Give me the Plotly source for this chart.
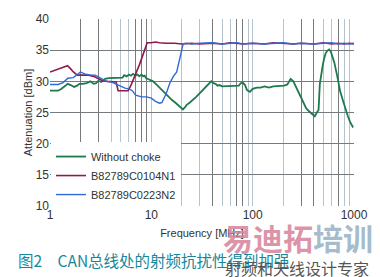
import plotly.graph_objects as go

# ---------------- data ----------------
freq_green = [1, 1.1, 1.2, 1.3, 1.4, 1.5, 1.6, 1.73, 1.85, 1.95, 2.1, 2.3, 2.5, 2.7, 2.85,
              3.0, 3.2, 3.5, 3.8, 4.2, 4.6, 5.0, 5.2, 5.4, 5.7, 6.0, 6.3, 6.6, 7.0, 7.3,
              7.6, 8.0, 8.3, 8.6, 8.9, 9.5, 10.4, 11.2, 12, 13, 13.9, 15, 16, 17.2, 18.4,
              19.7, 20.5, 21.9, 22.2, 24, 25.9, 27.7, 29.6, 32, 34.5, 37, 39, 41, 43, 45,
              47, 50, 55, 60, 65, 70, 73, 76, 80, 84, 88, 94, 100, 110, 120, 131, 145,
              160, 180, 205, 220, 237, 252, 272, 290, 305, 320, 337, 360, 380, 394, 410,
              430, 447, 460, 475, 493, 510, 525, 545, 568, 590, 615, 640, 680, 730, 775,
              820, 870, 920, 980]
val_green = [28.5, 28.5, 28.5, 28.8, 29.2, 29.6, 29.4, 29.1, 29.3, 29.6, 29.6, 29.7, 30.0, 29.6, 29.7,
             30.1, 29.9, 30.4, 30.5, 30.5, 30.5, 30.5, 30.6, 31.0, 30.8, 31.1, 30.9, 31.2, 30.9, 31.1,
             30.8, 31.1, 30.8, 30.9, 30.5, 30.3, 30.0, 29.5, 29.0, 28.5, 28.0, 27.5, 27.0, 26.6, 26.2,
             25.8, 25.5, 26.0, 26.2, 26.6, 27.0, 27.5, 28.0, 28.6, 29.1, 29.6, 30.0, 29.7, 29.6, 29.3,
             29.4, 29.2, 29.2, 29.2, 29.3, 29.2, 29.3, 29.7, 29.8, 29.4, 28.6, 28.3, 28.8, 29.0, 29.0,
             29.2, 29.0, 29.2, 29.2, 29.3, 29.5, 30.4, 30.0, 28.8, 27.8, 27.0, 26.4, 25.7, 25.2, 24.9,
             24.7, 24.4, 25.0, 25.4, 29.6, 31.5, 32.7, 33.8, 34.5, 34.9, 35.1, 34.8, 34.0, 33.0, 31.0,
             28.4, 27.0, 25.5, 24.4, 23.4, 22.6]

freq_n1 = [1, 1.2, 1.35, 1.49, 1.6, 1.7, 1.86, 2.0, 2.4, 2.7, 3.0, 3.3, 3.7, 4.2, 4.5,
           4.7, 5.2, 5.6, 5.9, 6.3, 6.7, 7.1, 7.6, 8.0, 8.5, 9.1, 10, 11, 12, 14,
           17, 20, 25, 30, 40, 50, 60, 70, 80, 100, 130, 160, 200, 250, 300, 400,
           500, 600, 700, 800, 900, 1000]
val_n1 = [31.5, 31.9, 32.2, 32.5, 32.0, 31.5, 31.0, 31.0, 31.0, 30.8, 30.4, 30.1, 30.0, 30.0, 29.9,
          28.5, 28.5, 28.5, 28.5, 29.4, 30.4, 31.4, 32.6, 33.6, 34.9, 36.2, 36.2, 36.3, 36.2, 36.1,
          36.1, 36.0, 36.1, 36.0, 36.1, 36.0, 36.2, 36.1, 36.0, 36.1, 36.0, 36.2, 36.1, 36.0, 36.1,
          36.0, 36.2, 36.0, 36.1, 36.0, 36.1, 36.0]

freq_n2 = [1, 1.2, 1.35, 1.5, 1.7, 1.85, 2.0, 2.2, 2.5, 2.8, 3.0, 3.3, 3.6, 4.0, 4.5,
           5.0, 5.5, 6.0, 6.5, 7.0, 8.0, 9.0, 10, 11, 12, 12.7, 14, 15.3, 16.5, 17.8,
           19, 20.6, 22, 25, 30, 40, 50, 60, 70, 80, 100, 130, 160, 200, 250, 300,
           400, 500, 600, 700, 800, 900, 1000]
val_n2 = [29.5, 29.5, 29.8, 30.5, 30.6, 31.0, 31.5, 31.2, 31.0, 31.0, 30.7, 30.3, 30.0, 29.9, 29.5,
          29.2, 28.9, 28.8, 28.5, 27.8, 27.5, 27.5, 27.3, 26.8, 26.5, 26.6, 28.0, 29.8, 30.8, 31.5,
          33.3, 36.0, 36.1, 36.0, 36.1, 36.2, 36.0, 36.1, 36.2, 36.0, 36.1, 36.0, 36.1, 36.2, 36.0,
          36.1, 36.0, 36.1, 36.2, 36.0, 36.1, 36.0, 36.1]

assert len(freq_green) == len(val_green)
assert len(freq_n1) == len(val_n1)
assert len(freq_n2) == len(val_n2)

names = ["Without choke", "B82789C0104N1", "B82789C0223N2"]
x_tick_vals = [1, 10, 100, 1000]
x_tick_text = ["1", "10", "100", "1000"]
y_ticks = [10, 15, 20, 25, 30, 35, 40]
dark_grid = [2, 3, 7, 8, 9, 40, 70, 80, 300, 400, 700, 1000]
light_grid = [4, 5, 6, 20, 30, 50, 60, 90, 200, 500, 600, 800, 900]

# ---------------- figure ----------------
W, H = 380, 277
ML, MR, MT, MB = 50, 18, 13, 71
PW, PH = W - ML - MR, H - MT - MB


def px(x):
    return (x - ML) / PW


def py(y):
    return (H - MB - y) / PH


fig = go.Figure()
# empty trace keeps the base (labelled) x axis drawn
fig.add_trace(go.Scatter(x=[], y=[], mode="lines", showlegend=False,
                         hoverinfo="skip"))
fig.add_trace(go.Scatter(x=freq_green, y=val_green, mode="lines", name=names[0],
                         xaxis="x2", line=dict(color="#1c7a4c", width=1.8)))
fig.add_trace(go.Scatter(x=freq_n1, y=val_n1, mode="lines", name=names[1],
                         xaxis="x2", line=dict(color="#8e1b4d", width=1.6)))
fig.add_trace(go.Scatter(x=freq_n2, y=val_n2, mode="lines", name=names[2],
                         xaxis="x2", line=dict(color="#2f6ad8", width=1.4)))

font_main = "Liberation Sans, Arial, sans-serif"
cjk = "Noto Sans CJK SC"

fig.update_layout(
    width=W, height=H,
    margin=dict(l=ML, r=MR, t=MT, b=MB),
    paper_bgcolor="white", plot_bgcolor="white",
    font=dict(family=font_main, size=12, color="#333"),
    showlegend=True,
    legend=dict(x=px(51), y=py(140), xanchor="left", yanchor="top",
                bgcolor="white", borderwidth=0,
                font=dict(size=11, color="#333", family=font_main),
                tracegroupgap=0),
    xaxis=dict(type="log", range=[0, 3],
               tickvals=x_tick_vals, ticktext=x_tick_text,
               showgrid=True, gridcolor="#b7c3cc", gridwidth=1,
               minor=dict(tickvals=light_grid, showgrid=True, gridcolor="#b7c3cc",
                          gridwidth=1, ticks=""),
               ticks="", showline=False, zeroline=False,
               tickfont=dict(size=12, color="#333"),
               title=dict(text="Frequency [MHz]", font=dict(size=11, color="#333"),
                          standoff=8)),
    xaxis2=dict(type="log", range=[0, 3], overlaying="x", anchor="y",
                tickvals=dark_grid, showticklabels=False,
                showgrid=True, gridcolor="#767b80", gridwidth=1,
                ticks="", showline=False, zeroline=False),
    yaxis=dict(range=[10, 40], tickvals=y_ticks,
               showgrid=True, gridcolor="#767b80", gridwidth=1,
               ticks="", showline=False, zeroline=False,
               tickfont=dict(size=12, color="#333"),
               title=dict(text="Attenuation [dBm]", font=dict(size=11, color="#333"),
                          standoff=0)),
)

fig.add_annotation(text="图2　CAN总线处的射频抗扰性得到加强",
                   xref="paper", yref="paper", x=px(15), y=py(262),
                   xanchor="left", yanchor="middle", showarrow=False,
                   font=dict(family=cjk, size=15.5, color="#17889a"))
fig.add_annotation(text="<b><span style='color:rgba(214,130,152,0.85)'>易迪拓</span>"
                        "<span style='color:rgba(150,176,196,0.85)'>培训</span></b>",
                   xref="paper", yref="paper", x=px(226), y=py(238),
                   xanchor="left", yanchor="middle", showarrow=False,
                   font=dict(family=cjk, size=30))
fig.add_annotation(text="射频和天线设计专家",
                   xref="paper", yref="paper", x=px(228), y=py(270),
                   xanchor="left", yanchor="middle", showarrow=False,
                   font=dict(family=cjk, size=16, color="#555"))

fig.write_html("out.html")
